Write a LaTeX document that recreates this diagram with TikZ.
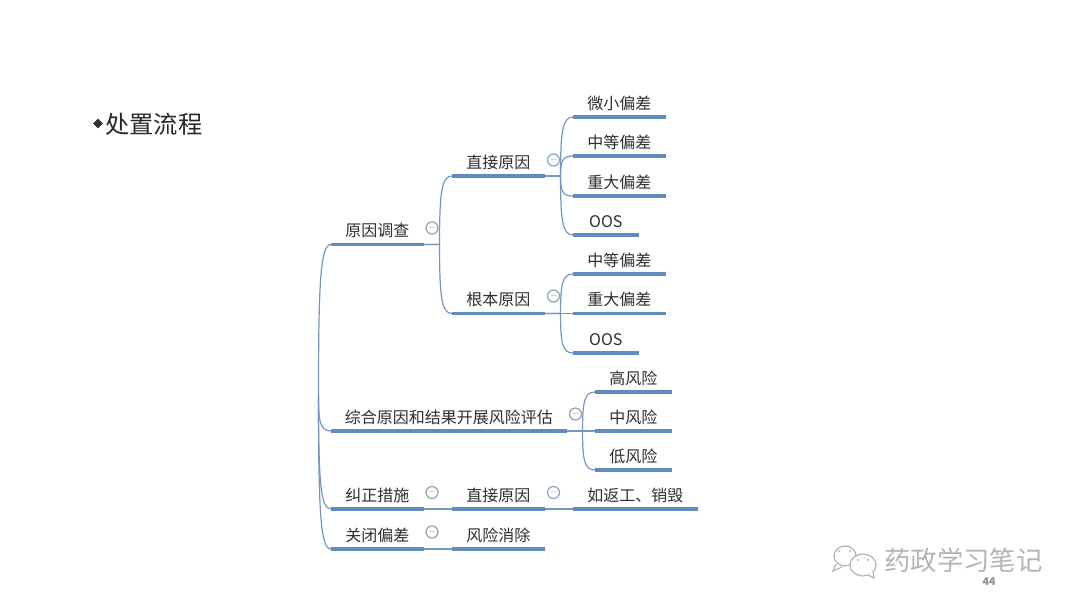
\documentclass[tikz,border=0pt]{standalone}
\usepackage{fontspec}
\setmainfont{Noto Sans CJK SC}
\usetikzlibrary{calc,shapes.geometric}
\definecolor{barblue}{HTML}{5F8BBF}
\definecolor{linkblue}{HTML}{7396BE}
\definecolor{foldgray}{HTML}{8CA3B5}
\definecolor{inkgray}{HTML}{2E2E2E}
\definecolor{markgray}{HTML}{B4B4B4}

\begin{document}
\begin{tikzpicture}[
    x=0.75pt, y=-0.75pt,
    topic/.style={anchor=south west, inner sep=0pt, minimum height=20.25pt,
                  minimum width=69pt, font=\fontsize{12}{14}\selectfont, text=inkgray},
    link/.style={draw=linkblue, line width=0.9pt},
    bar/.style={draw=barblue, line width=2.7pt},
    fold/.style={draw=foldgray, circle, line width=0.9pt, inner sep=0pt,
                 minimum size=9pt, text=foldgray, font=\fontsize{7}{7}\selectfont},
    bubble/.style={draw=markgray, fill=white, line width=0.9pt},
]
\useasboundingbox (0,0) rectangle (1080,608);

% === Title ===
\node[diamond, fill=inkgray, inner sep=0pt, minimum size=7.5pt] (bullet) at (98,123.5) {};
\node[anchor=west, inner sep=0pt, font=\fontsize{18.2}{20}\selectfont, text=black!85] (title) at (105,124) {处置流程};

% === First level ===
\coordinate (root) at (318.5,396);
\node[topic] (cause) at (331,244.5) {原因调查};
\node[topic, minimum width=176.25pt] (assess) at (331,431) {综合原因和结果开展风险评估};
\node[topic] (fix) at (331,509) {纠正措施};
\node[topic] (close) at (331,549) {关闭偏差};

% === Second level ===
\node[topic] (direct) at (452,176) {直接原因};
\node[topic] (rootcause) at (452,313.5) {根本原因};
\node[topic] (fixdirect) at (452,509) {直接原因};
\node[topic] (clear) at (452,549) {风险消除};

% === Third level ===
\node[topic] (minor) at (573,117) {微小偏差};
\node[topic] (medium) at (573,156) {中等偏差};
\node[topic] (major) at (573,196) {重大偏差};
\node[topic, minimum width=48.75pt] (oos) at (573,235) {OOS};
\node[topic] (medium2) at (573,274) {中等偏差};
\node[topic] (major2) at (573,313.5) {重大偏差};
\node[topic, minimum width=48.75pt] (oos2) at (573,353) {OOS};
\node[topic, minimum width=57pt] (high) at (595,392) {高风险};
\node[topic, minimum width=57pt] (mid) at (595,431) {中风险};
\node[topic, minimum width=57pt] (low) at (595,470) {低风险};
\node[topic, minimum width=93pt] (rework) at (573,509) {如返工、销毁};

% === Links from the root ===
\foreach \c in {cause,assess,fix,close}
  \draw[link] (root) .. controls ($(root)!.75!(root |- \c.south west)$)
    and ($(root |- \c.south west)!.15!(\c.south west)$) .. (\c.south west);

% === Curved links between topics ===
\foreach \p/\c in {cause/direct,cause/rootcause,direct/minor,direct/medium,direct/major,direct/oos,
                   rootcause/medium2,rootcause/oos2,assess/high,assess/low}
  \draw[link] (\p.south east) -- ++(16,0) coordinate (bus)
    .. controls ($(bus)!.75!(bus |- \c.south west)$)
    and ($(bus |- \c.south west)!.15!(\c.south west)$) .. (\c.south west);

% === Straight links ===
\foreach \p/\c in {rootcause/major2,assess/mid,fix/fixdirect,fixdirect/rework,close/clear}
  \draw[link] (\p.south east) -- (\c.south west);

% === Underlines ===
\foreach \t in {cause,assess,fix,close,direct,rootcause,fixdirect,clear,minor,medium,major,
                oos,medium2,major2,oos2,high,mid,low,rework}
  \draw[bar] (\t.south west) -- (\t.south east);

% === Collapse marks ===
\node[fold] (foldcause) at (432,228) {$-$};
\node[fold] (folddirect) at (553.5,160) {$-$};
\node[fold] (foldroot) at (553.5,296) {$-$};
\node[fold] (foldassess) at (575.5,414) {$-$};
\node[fold] (foldfix) at (432,492.5) {$-$};
\node[fold] (foldfixdirect) at (553.5,492.5) {$-$};
\node[fold] (foldclose) at (432,532) {$-$};

% === Watermark ===
\draw[bubble] (845,556) ellipse (11 and 10);
\draw[bubble] (836,564) -- (833,571) -- (842,567);
\draw[bubble] (863,565) ellipse (13 and 11);
\draw[bubble] (868,575) -- (874,578) -- (873,571);
\fill[markgray] (839,551) circle (1.1) (850,551) circle (1.1) (858,560) circle (1.1) (868,560) circle (1.1);
\node[anchor=west, inner sep=0pt, font=\fontsize{19.8}{22}\selectfont, text=markgray] (mark) at (884,560.5) {药政学习笔记};
\node[inner sep=0pt, font=\fontsize{8}{9}\bfseries\selectfont, text=black!45] (page) at (989,581.5) {44};

\end{tikzpicture}
\end{document}
